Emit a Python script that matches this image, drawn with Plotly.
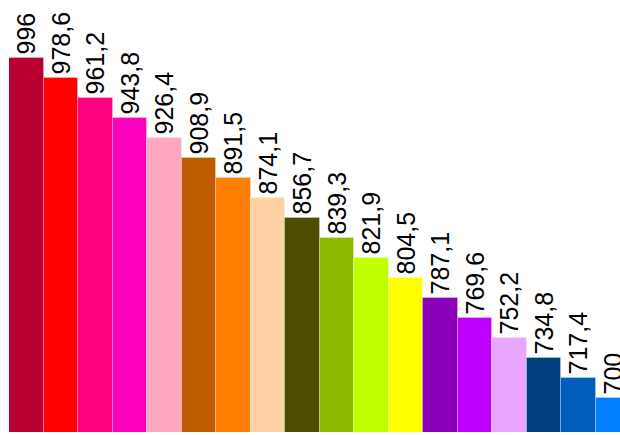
import plotly.graph_objects as go

categories = [f"c{i}" for i in range(1, 19)]
values = [996, 978.6, 961.2, 943.8, 926.4, 908.9, 891.5, 874.1, 856.7,
          839.3, 821.9, 804.5, 787.1, 769.6, 752.2, 734.8, 717.4, 700]
colors = ["#BA0030", "#FF0000", "#FF0080", "#FF00BF", "#FFA6C0", "#BF5C00",
          "#FF8000", "#FFD2A6", "#4D4D00", "#8FBA00", "#BFFF00", "#FFFF00",
          "#8C00BA", "#BF00FF", "#E8A6FF", "#004080", "#005EBA", "#0080FF"]
labels = [f"{v:g}".replace(".", ",") for v in values]

fig = go.Figure(go.Bar(
    x=categories, y=values,
    marker=dict(color=colors, line=dict(color="rgba(255,255,255,0.25)", width=1)),
    text=labels, textposition="outside", textangle=-90,
    textfont=dict(family="Liberation Sans, Arial", size=25, color="#000000"),
    constraintext="none", cliponaxis=False,
))
fig.update_layout(
    width=620, height=435,
    margin=dict(l=9, r=0, t=0, b=3),
    paper_bgcolor="white", plot_bgcolor="white",
    bargap=0, showlegend=False,
    xaxis=dict(visible=False, range=[-0.5, 17.21]),
    yaxis=dict(visible=False, range=[670.1, 1046.3]),
)
fig.write_html(
    "out.html",
    config={"displayModeBar": False},
    post_script="document.body.style.margin='0';document.body.style.overflow='hidden';",
)
